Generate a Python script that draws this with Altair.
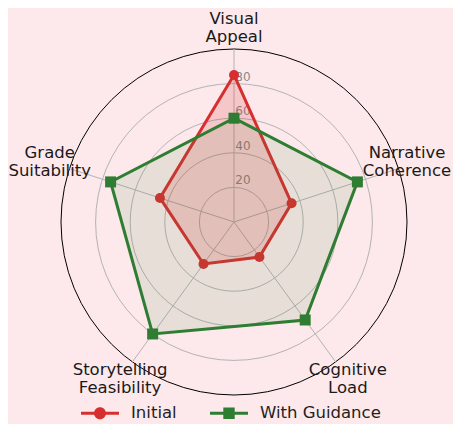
import altair as alt
import pandas as pd

# ---- data ----
categories = ["Visual Appeal", "Narrative Coherence", "Cognitive Load",
              "Storytelling Feasibility", "Grade Suitability"]
category_labels = ["Visual\nAppeal", "Narrative\nCoherence", "Cognitive\nLoad",
                   "Storytelling\nFeasibility", "Grade\nSuitability"]
initial = [85, 35, 25, 30, 45]
with_guidance = [60, 75, 70, 80, 75]
series_names = ["Initial", "With Guidance"]
series_colors = ["#d62f2f", "#2e7d32"]
series_shapes = ["circle", "square"]
series_fill_opacity = [0.18, 0.1]
ring_values = [20, 40, 60, 80]
outer_value = 100
label_radius = [112, 112, 112, 112, 112]
label_xshift = [0, -6.5, 0, 0, 0]

# ---- layout ----
R_PX = 173
W, H = 445, 416
CX, CY = 226, 214
xdom = [-CX / R_PX * 100, (W - CX) / R_PX * 100]
ydom = [-(H - CY) / R_PX * 100, CY / R_PX * 100]
xs = alt.Scale(domain=xdom, nice=False, zero=False)
ys = alt.Scale(domain=ydom, nice=False, zero=False)
FONT = "DejaVu Sans"

ANG = "(90 - 72 * datum.idx) * PI / 180"

rows = []
for s, vals in zip(series_names, [initial, with_guidance]):
    for i, (c, v) in enumerate(zip(categories, vals)):
        rows.append({"series": s, "idx": i, "category": c, "value": v})
series_df = pd.DataFrame(rows)

axes_df = pd.DataFrame({
    "idx": list(range(len(categories))),
    "category": categories,
    "label": category_labels,
    "outer": [outer_value] * len(categories),
    "lr": label_radius,
    "lshift": label_xshift,
})

rings_df = pd.DataFrame({
    "r": ring_values + [outer_value],
    "kind": ["grid"] * len(ring_values) + ["outer"],
})
ticks_df = pd.DataFrame({"value": ring_values, "label": [str(v) for v in ring_values]})

# ---- grid rings ----
rings = alt.Chart(rings_df).transform_calculate(c0="0").mark_arc(
    filled=False, theta=0, theta2=6.2832, strokeWidth=1
).encode(
    x=alt.X("c0:Q", scale=xs, axis=None),
    y=alt.Y("c0:Q", scale=ys, axis=None),
    radius=alt.Radius("r:Q", stack=None,
                      scale=alt.Scale(type="linear", domain=[0, 100], range=[0, R_PX], zero=True)),
    stroke=alt.Stroke("kind:N", scale=alt.Scale(domain=["grid", "outer"], range=["#b3b3b3", "#000000"]),
                      legend=None),
)

spokes = alt.Chart(axes_df).transform_calculate(
    ang=ANG, c0="0"
).transform_calculate(
    x2="datum.outer * cos(datum.ang)", y2="datum.outer * sin(datum.ang)"
).mark_rule(color="#b3b3b3", strokeWidth=1).encode(
    x=alt.X("c0:Q", scale=xs, axis=None),
    y=alt.Y("c0:Q", scale=ys, axis=None),
    x2="x2:Q",
    y2="y2:Q",
)

ticks = alt.Chart(ticks_df).transform_calculate(c0="0").mark_text(
    font=FONT, fontSize=12, color="#8a8a8a", align="center", baseline="middle", dx=9, dy=-7
).encode(
    x=alt.X("c0:Q", scale=xs, axis=None),
    y=alt.Y("value:Q", scale=ys, axis=None),
    text="label:N",
)

layers = [rings, spokes, ticks]

for name, color, shape, fo in zip(series_names, series_colors, series_shapes, series_fill_opacity):
    base = alt.Chart(series_df).transform_filter(
        alt.datum.series == name
    ).transform_calculate(ang=ANG).transform_calculate(
        px="datum.value * cos(datum.ang)", py="datum.value * sin(datum.ang)"
    )
    enc = dict(x=alt.X("px:Q", scale=xs, axis=None), y=alt.Y("py:Q", scale=ys, axis=None))
    line = base.mark_line(
        interpolate="linear-closed", stroke=color, strokeWidth=3, fill=color, fillOpacity=fo
    ).encode(order=alt.Order("idx:Q"), **enc)
    pts = base.mark_point(
        shape=shape, filled=True, size=(100 if shape == "circle" else 121), color=color, opacity=1
    ).encode(**enc)
    layers += [line, pts]

# ---- legend (invisible layer that only supplies the legend) ----
circle_sym = ("M-1,-0.079H1V0.079H-1Z "
              "M0.316,0A0.316,0.316,0,1,1,-0.316,0A0.316,0.316,0,1,1,0.316,0Z")
square_sym = ("M-1,-0.079H1V0.079H-1Z "
              "M-0.3,-0.3H0.3V0.3H-0.3Z")
leg = alt.Legend(
    title=None, orient="none", direction="horizontal", legendX=73, legendY=386,
    labelFont=FONT, labelFontSize=16.5, labelColor="#222222", labelOffset=12,
    columnPadding=33, symbolSize=1444, symbolStrokeWidth=0, symbolOpacity=1, padding=0,
)
legend_layer = alt.Chart(series_df).transform_calculate(ang=ANG).transform_calculate(
    px="datum.value * cos(datum.ang)", py="datum.value * sin(datum.ang)"
).mark_point(filled=True, opacity=0).encode(
    x=alt.X("px:Q", scale=xs, axis=None),
    y=alt.Y("py:Q", scale=ys, axis=None),
    color=alt.Color("series:N", scale=alt.Scale(domain=series_names, range=series_colors), legend=leg),
    shape=alt.Shape("series:N", scale=alt.Scale(domain=series_names, range=[circle_sym, square_sym]),
                    legend=leg),
)
layers.append(legend_layer)

labels = alt.Chart(axes_df).transform_calculate(ang=ANG).transform_calculate(
    lx="datum.lr * cos(datum.ang) + datum.lshift", ly="datum.lr * sin(datum.ang)"
).mark_text(
    font=FONT, fontSize=16.5, color="#1a1a1a", align="center", baseline="middle",
    lineBreak="\n", lineHeight=18.5, dy=-9.25
).encode(
    x=alt.X("lx:Q", scale=xs, axis=None),
    y=alt.Y("ly:Q", scale=ys, axis=None),
    text="label:N",
)
layers.append(labels)

chart = alt.layer(*layers).properties(
    width=W, height=H, background="#fde9eb", padding=0, autosize="none"
).configure_view(stroke=None)

chart.save("out.html", embed_options={"renderer": "svg", "actions": False})
